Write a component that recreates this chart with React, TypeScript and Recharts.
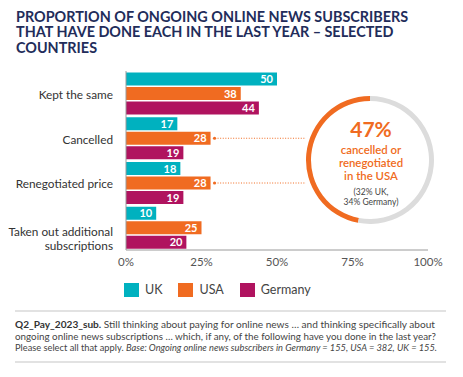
import React from 'react';
import { BarChart, Bar, XAxis, YAxis, LabelList, PieChart, Pie, Cell } from 'recharts';

const categories = ['Kept the same', 'Cancelled', 'Renegotiated price', 'Taken out additional subscriptions'];
const ukValues = [50, 17, 18, 10];
const usaValues = [38, 28, 28, 25];
const germanyValues = [44, 19, 19, 20];
const xTicks = [0, 25, 50, 75, 100];
const seriesNames = ['UK', 'USA', 'Germany'];
const seriesKeys = ['uk', 'usa', 'germany'];
const seriesColors = ['#00b1bf', '#f06b21', '#b0135f'];
const highlightValue = 47;
const highlightIndexes = [1, 2];

const FONT = 'Lato, "Open Sans", sans-serif';
const TITLE_LINES = [
  'PROPORTION OF ONGOING ONLINE NEWS SUBSCRIBERS',
  'THAT HAVE DONE EACH IN THE LAST YEAR – SELECTED',
  'COUNTRIES',
];

const data = categories.map((name, i) => ({
  name,
  uk: ukValues[i],
  usa: usaValues[i],
  germany: germanyValues[i],
}));

const ringData = [
  { name: 'done', value: highlightValue },
  { name: 'rest', value: 100 - highlightValue },
];

const CategoryTick = (props: any) => {
  const { x, y, payload } = props;
  const label: string = payload.value;
  if (label === 'Taken out additional subscriptions') {
    return (
      <text x={x - 5} y={y} textAnchor="end" fontFamily={FONT} fontSize={11.8} fill="#333">
        <tspan x={x - 5} dy={8}>Taken out additional</tspan>
        <tspan x={x - 5} dy={14.5}>subscriptions</tspan>
      </text>
    );
  }
  return (
    <text x={x - 5} y={y} dy={5.5} textAnchor="end" fontFamily={FONT} fontSize={11.8} fill="#333">
      {label}
    </text>
  );
};

const ValueLabel = (props: any) => {
  const { x, y, width, height, value } = props;
  return (
    <text
      x={x + width - 4}
      y={y + height / 2}
      dy={4}
      textAnchor="end"
      fontFamily={FONT}
      fontWeight={700}
      fontSize={11}
      fill="#fff"
    >
      {value}
    </text>
  );
};

const UsaLabel = (props: any) => {
  const { x, y, width, height, value, index } = props;
  const endX = x + width;
  const cy = y + height / 2;
  return (
    <g>
      <text
        x={endX - 4}
        y={cy}
        dy={4}
        textAnchor="end"
        fontFamily={FONT}
        fontWeight={700}
        fontSize={11}
        fill="#fff"
      >
        {value}
      </text>
      {highlightIndexes.includes(index) && (
        <g>
          <circle cx={endX + 4} cy={cy} r={1.6} fill="#f06b21" />
          <line x1={endX + 7} y1={cy} x2={306} y2={cy} stroke="#f06b21" strokeWidth={1} strokeDasharray="1 1.6" />
        </g>
      )}
    </g>
  );
};

export default function App() {
  return (
    <div style={{ position: 'absolute', left: 0, top: 0, width: 463, height: 377, background: '#fff', fontFamily: FONT }}>
      <svg width={463} height={377} style={{ position: 'absolute', left: 0, top: 0 }}>
        {TITLE_LINES.map((t, i) => (
          <text key={i} x={16} y={21.5 + i * 15.5} fontFamily={FONT} fontWeight={700} fontSize={14.4} fill="#222c5a">
            {t}
          </text>
        ))}
      </svg>
      <div style={{ position: 'absolute', left: 0, top: 0 }}>
        <BarChart
          width={463}
          height={377}
          data={data}
          layout="vertical"
          margin={{ top: 71, right: 35, bottom: 97, left: 0 }}
          barCategoryGap={1.5}
          barGap={1.5}
        >
          <XAxis
            type="number"
            domain={[0, 100]}
            ticks={xTicks}
            tickFormatter={(v: number) => `${v}%`}
            axisLine={{ stroke: '#9a9a9a' }}
            tickLine={false}
            tick={{ fontFamily: FONT, fontSize: 11.5, fill: '#555' }}
            tickMargin={2}
            height={30}
            interval={0}
          />
          <YAxis
            type="category"
            dataKey="name"
            width={126}
            axisLine={{ stroke: '#9a9a9a' }}
            tickLine={false}
            tick={<CategoryTick />}
            interval={0}
          />
          <Bar dataKey="uk" name="UK" fill={seriesColors[0]} isAnimationActive={false}>
            <LabelList dataKey="uk" content={<ValueLabel />} />
          </Bar>
          <Bar dataKey="usa" name="USA" fill={seriesColors[1]} isAnimationActive={false}>
            <LabelList dataKey="usa" content={<UsaLabel />} />
          </Bar>
          <Bar dataKey="germany" name="Germany" fill={seriesColors[2]} isAnimationActive={false}>
            <LabelList dataKey="germany" content={<ValueLabel />} />
          </Bar>
        </BarChart>
      </div>
      <div style={{ position: 'absolute', left: 305, top: 95 }}>
        <PieChart width={130} height={130} margin={{ top: 0, right: 0, bottom: 0, left: 0 }}>
          <Pie
            data={ringData}
            dataKey="value"
            cx={65}
            cy={65}
            innerRadius={59}
            outerRadius={64}
            startAngle={90}
            endAngle={450}
            stroke="none"
            isAnimationActive={false}
          >
            <Cell fill="#f06b21" />
            <Cell fill="#dcdcdc" />
          </Pie>
        </PieChart>
      </div>
      <svg width={463} height={377} style={{ position: 'absolute', left: 0, top: 0, pointerEvents: 'none' }}>
        <text x={371} y={137} textAnchor="middle" fontFamily={FONT} fontWeight={700} fontSize={21} fill="#f06b21">
          {highlightValue}%
        </text>
        <text textAnchor="middle" fontFamily={FONT} fontWeight={600} fontSize={11.4} fill="#f06b21">
          <tspan x={371} y={153.5}>cancelled or</tspan>
          <tspan x={371} y={166.5}>renegotiated</tspan>
          <tspan x={371} y={179.5}>in the USA</tspan>
        </text>
        <text textAnchor="middle" fontFamily={FONT} fontSize={8.5} fill="#444">
          <tspan x={371} y={195}>(32% UK,</tspan>
          <tspan x={371} y={204.5}>34% Germany)</tspan>
        </text>
        <line x1={15} y1={311} x2={446} y2={311} stroke="#d8d8d8" strokeWidth={1.5} />
        <line x1={15} y1={362} x2={446} y2={362} stroke="#d8d8d8" strokeWidth={1.5} />
        <text x={15} y={328} fontFamily={FONT} fontSize={10} fill="#444" textLength={420} lengthAdjust="spacingAndGlyphs">
          <tspan fontWeight={700} fill="#333">Q2_Pay_2023_sub.</tspan> Still thinking about paying for online news … and thinking specifically about
        </text>
        <text x={15} y={339.5} fontFamily={FONT} fontSize={10} fill="#444" textLength={421} lengthAdjust="spacingAndGlyphs">
          ongoing online news subscriptions … which, if any, of the following have you done in the last year?
        </text>
        <text x={15} y={351} fontFamily={FONT} fontSize={10} fill="#444" textLength={422} lengthAdjust="spacingAndGlyphs">
          Please select all that apply. <tspan fontStyle="italic">Base: Ongoing online news subscribers in Germany = 155, USA = 382, UK = 155.</tspan>
        </text>
      </svg>
      <div style={{ position: 'absolute', left: 124, top: 282, display: 'flex', alignItems: 'center', fontFamily: FONT, fontSize: 12.5, color: '#444' }}>
        {seriesNames.map((n, i) => (
          <div key={seriesKeys[i]} style={{ display: 'flex', alignItems: 'center', marginRight: 16 }}>
            <div style={{ width: 15, height: 14, background: seriesColors[i], marginRight: 6 }} />
            <span>{n}</span>
          </div>
        ))}
      </div>
    </div>
  );
}
